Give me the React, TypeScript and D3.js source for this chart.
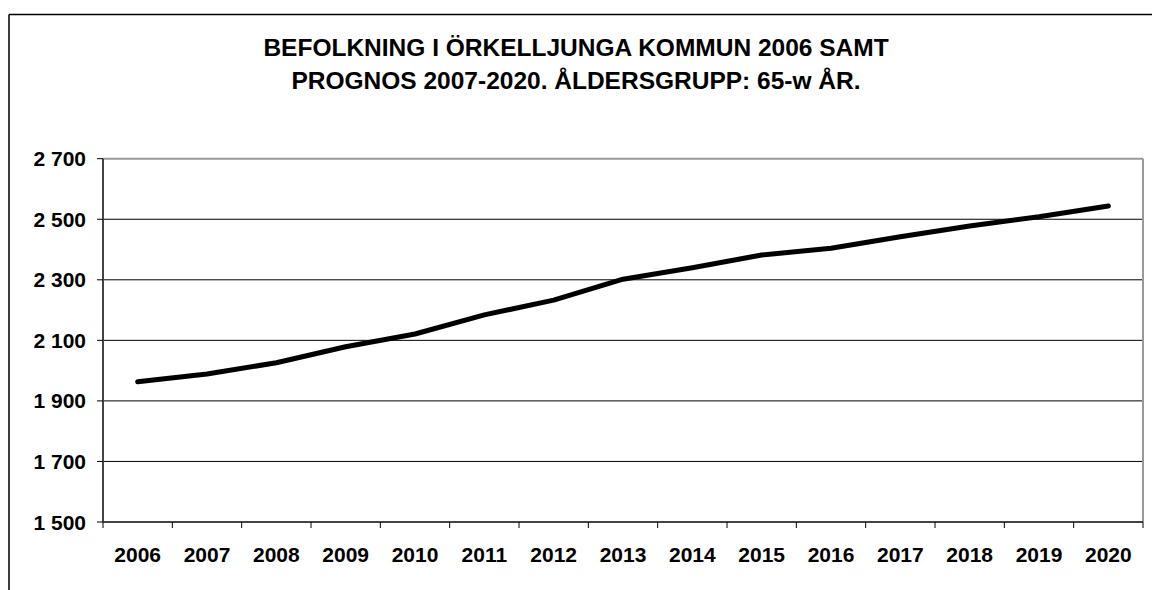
import React from "react";
import * as d3 from "d3";

const years = ["2006","2007","2008","2009","2010","2011","2012","2013","2014","2015","2016","2017","2018","2019","2020"];
const population = [1963, 1989, 2026, 2079, 2121, 2184, 2233, 2302, 2340, 2382, 2404, 2442, 2478, 2508, 2544];
const yTicks = [1500, 1700, 1900, 2100, 2300, 2500, 2700];
const titleLines = ["BEFOLKNING I ÖRKELLJUNGA KOMMUN 2006 SAMT", "PROGNOS 2007-2020. ÅLDERSGRUPP: 65-w ÅR."];

const fmt = (v: number) => d3.format(",")(v).replace(",", " ");

export default function App() {
  const W = 1152, H = 590;
  const left = 103, right = 1143, top = 158.7, bottom = 522;
  const x = d3.scaleBand<string>().domain(years).range([left, right]).padding(0);
  const y = d3.scaleLinear().domain([1500, 2700]).range([bottom, top]);
  const line = d3.line<number>()
    .x((_, i) => (x(years[i]) as number) + x.bandwidth() / 2)
    .y((d) => y(d));
  const font = "'Liberation Sans', Arial, sans-serif";
  const boundaries = years.map((yr) => x(yr) as number).concat([right]);
  return (
    <svg width={W} height={H} style={{ position: "absolute", left: 0, top: 0, background: "#fff" }} fontFamily={font}>
      <rect x={0} y={0} width={W} height={H} fill="#fff" />
      {/* outer frame */}
      <line x1={9} y1={14.5} x2={W} y2={14.5} stroke="#000" strokeWidth={1.5} />
      <line x1={9} y1={14.5} x2={9} y2={H} stroke="#000" strokeWidth={1.5} />
      {/* title */}
      {titleLines.map((t, i) => (
        <text key={i} x={576} y={56 + i * 33} textAnchor="middle" fontWeight="bold" fontSize={24.5} fill="#000">{t}</text>
      ))}
      {/* gridlines */}
      {yTicks.filter((v) => v !== 1500 && v !== 2700).map((v) => (
        <line key={v} x1={left} x2={right} y1={y(v)} y2={y(v)} stroke="#000" strokeWidth={1} />
      ))}
      {/* plot border top/right */}
      <line x1={left} x2={right} y1={top} y2={top} stroke="#999" strokeWidth={2} />
      <line x1={right} x2={right} y1={top} y2={bottom} stroke="#999" strokeWidth={2} />
      {/* axes */}
      <line x1={left} x2={left} y1={top} y2={bottom} stroke="#444" strokeWidth={2} />
      <line x1={left} x2={right} y1={bottom} y2={bottom} stroke="#444" strokeWidth={2} />
      {yTicks.map((v) => (
        <g key={v}>
          <line x1={97} x2={left} y1={y(v)} y2={y(v)} stroke="#000" strokeWidth={1} />
          <text x={86} y={y(v)} dy="0.36em" textAnchor="end" fontWeight="bold" fontSize={21} fill="#000">{fmt(v)}</text>
        </g>
      ))}
      {boundaries.map((bx, i) => (
        <line key={i} x1={bx} x2={bx} y1={bottom} y2={bottom + 6} stroke="#000" strokeWidth={1} />
      ))}
      {years.map((yr) => (
        <text key={yr} x={(x(yr) as number) + x.bandwidth() / 2} y={561.5} textAnchor="middle" fontWeight="bold" fontSize={21} fill="#000">{yr}</text>
      ))}
      <path d={line(population) as string} fill="none" stroke="#000" strokeWidth={5} strokeLinecap="round" strokeLinejoin="round" />
    </svg>
  );
}
